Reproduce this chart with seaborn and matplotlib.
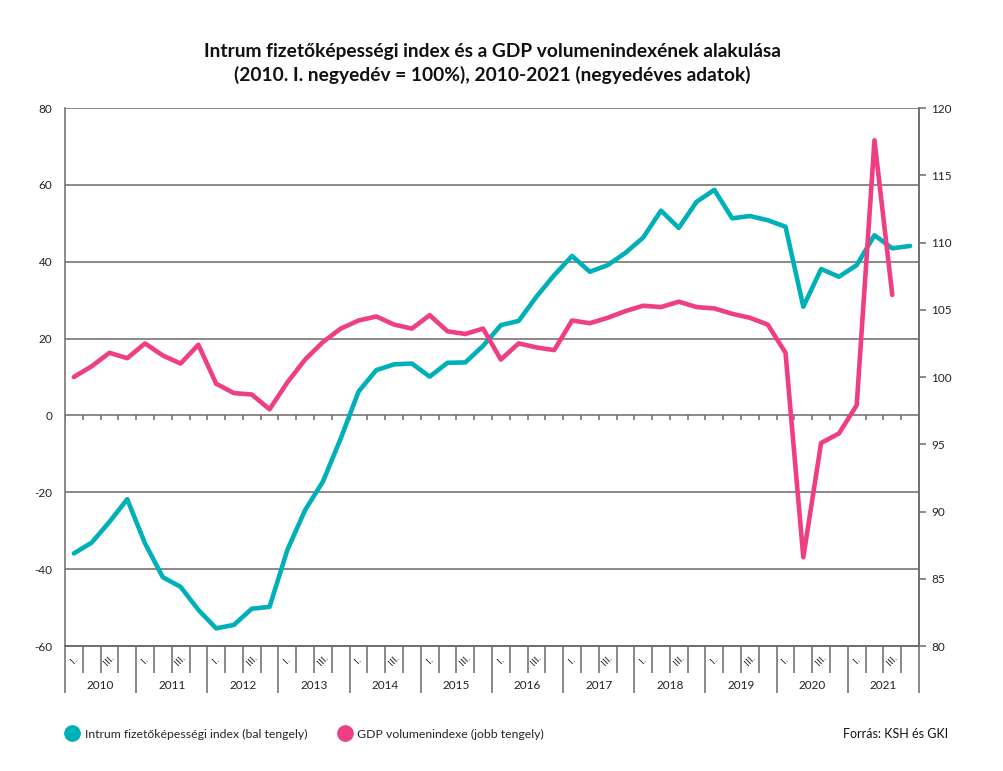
import numpy as np
import pandas as pd
import seaborn as sns
import matplotlib.pyplot as plt
from matplotlib.lines import Line2D

sns.set_style("white")
plt.rcParams['font.family'] = ['Lato', 'DejaVu Sans']

# data, 2010 Q1 .. 2021 Q4
years = [str(y) for y in range(2010, 2022)]
quarter_labels = ['I.', '', 'III.', '']

intrum = [-35.9, -33.1, -27.7, -21.8, -33.3, -42.1, -44.6, -50.6,
          -55.4, -54.5, -50.3, -49.8, -35.0, -24.6, -17.2, -6.0,
          6.2, 11.8, 13.3, 13.5, 10.1, 13.7, 13.8, 18.1,
          23.5, 24.6, 30.9, 36.5, 41.5, 37.4, 39.1, 42.3,
          46.3, 53.3, 48.8, 55.6, 58.7, 51.3, 51.9, 50.8,
          49.1, 28.3, 38.1, 36.1, 39.1, 46.9, 43.5, 44.1]

gdp = [100.0, 100.8, 101.8, 101.4, 102.5, 101.6, 101.0, 102.4,
       99.5, 98.8, 98.7, 97.6, 99.6, 101.3, 102.6, 103.6,
       104.2, 104.5, 103.9, 103.6, 104.6, 103.4, 103.2, 103.6,
       101.3, 102.5, 102.2, 102.0, 104.2, 104.0, 104.4, 104.9,
       105.3, 105.2, 105.6, 105.2, 105.1, 104.7, 104.4, 103.9,
       101.8, 86.6, 95.1, 95.8, 97.9, 117.6, 106.1]

teal = '#00b0b9'
pink = '#ee3f84'
grey = '#6f6866'

df1 = pd.DataFrame({'q': np.arange(len(intrum)), 'v': intrum})
df2 = pd.DataFrame({'q': np.arange(len(gdp)), 'v': gdp})

fig = plt.figure(figsize=(10.04, 7.71), dpi=100)
ax = fig.add_axes([0.0647, 0.1621, 0.8506, 0.6978])
ax2 = ax.twinx()

n = len(years) * 4
ax.set_xlim(-0.5, n - 0.5)
ax.set_ylim(-60, 80)
ax.set_yticks(range(-60, 81, 20))
ax.set_yticklabels([str(v) for v in range(-60, 81, 20)])
ax.tick_params(axis='y', left=False, length=0, pad=9, labelsize=8.5, labelcolor='#222222')
for v in range(-60, 81, 20):
    ax.axhline(v, color=grey, lw=1.1, zorder=1)

# quarter / year separators as ticks below the axis
ax.set_xticks(np.arange(-0.5, n, 4))
ax.set_xticks(np.arange(-0.5, n, 1), minor=True)
ax.tick_params(axis='x', which='major', bottom=True, direction='out', length=34, width=1.1, color=grey, labelbottom=False)
ax.tick_params(axis='x', which='minor', bottom=True, direction='out', length=19.5, width=1.1, color=grey, labelbottom=False)
# small marks on the zero line
ax.vlines(np.arange(-0.5, n, 1), -1.2, 0, color=grey, lw=1.1, zorder=1)

trans = ax.get_xaxis_transform()
for i, y in enumerate(years):
    ax.text(i * 4 + 1.5, -0.074, y, transform=trans, ha='center', va='center', fontsize=8.5, color='#222222')
    for k, ql in enumerate(quarter_labels):
        if ql:
            ax.text(i * 4 + k, -0.027, ql, transform=trans, ha='center', va='center',
                    rotation=45, fontsize=7.5, color='#222222')

sns.lineplot(data=df1, x='q', y='v', ax=ax, color=teal, lw=3.3, zorder=3)
sns.lineplot(data=df2, x='q', y='v', ax=ax2, color=pink, lw=3.3, zorder=3)

ax2.set_ylim(80, 120)
ax2.set_yticks(range(80, 121, 5))
ax2.tick_params(axis='y', right=True, direction='out', length=5, width=1.1, color=grey, pad=4, labelsize=8.5, labelcolor='#222222')
ax.set_xlabel('')
ax.set_ylabel('')
ax2.set_ylabel('')

for a in (ax, ax2):
    a.spines['top'].set_visible(False)
    for s in ('left', 'right', 'bottom'):
        a.spines[s].set_color(grey)
        a.spines[s].set_linewidth(1.1)
ax2.spines['left'].set_visible(False)

fig.text(0.49, 0.918, 'Intrum fizetőképességi index és a GDP volumenindexének alakulása\n'
         '(2010. I. negyedév = 100%), 2010-2021 (negyedéves adatok)',
         ha='center', va='center', fontsize=13.8, fontweight='bold', color='#111111', linespacing=1.4)

handles = [Line2D([], [], marker='o', ls='none', color=teal, markersize=11),
           Line2D([], [], marker='o', ls='none', color=pink, markersize=11)]
fig.legend(handles, ['Intrum fizetőképességi index (bal tengely)', 'GDP volumenindexe (jobb tengely)'],
           loc='center left', bbox_to_anchor=(0.055, 0.048), ncol=2, frameon=False,
           fontsize=8.8, handletextpad=0.5, columnspacing=2.6, handlelength=1.0)
fig.text(0.944, 0.048, 'Forrás: KSH és GKI', ha='right', va='center', fontsize=9, color='#111111')

fig.savefig('out.png', dpi=100, facecolor='white')
